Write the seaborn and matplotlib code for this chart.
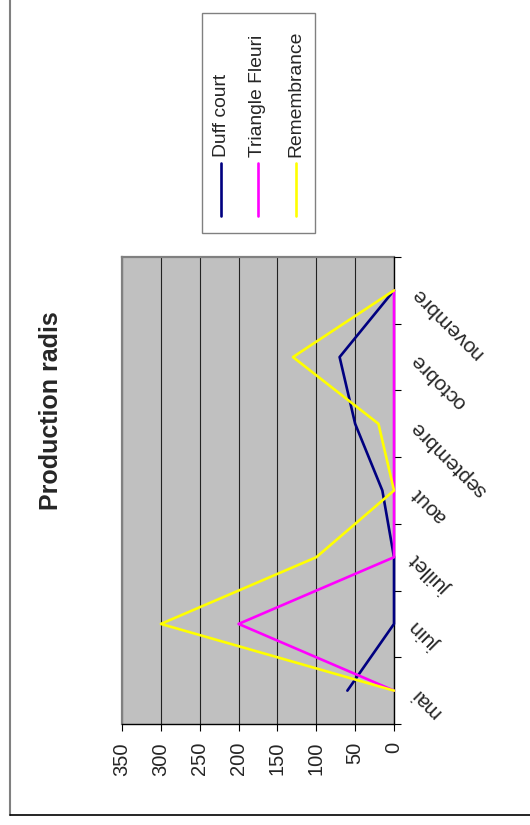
import numpy as np
import pandas as pd
import matplotlib
matplotlib.use("Agg")
import matplotlib.pyplot as plt
from matplotlib.lines import Line2D
from matplotlib.patches import Rectangle
import seaborn as sns

# ---- data ----
months = ['mai', 'juin', 'juillet', 'aout', 'septembre', 'octobre', 'novembre']
series_names = ['Duff court', 'Triangle Fleuri', 'Remembrance']
duff_court = [60, 0, 0, 15, 50, 70, 0]
triangle_fleuri = [0, 200, 0, 0, 0, 0, 0]
remembrance = [0, 300, 100, 0, 20, 130, 0]
value_ticks = [0, 50, 100, 150, 200, 250, 300, 350]
colors = ['#000080', '#FF00FF', '#FFFF00']
title = 'Production radis'

sns.set_style('white')
plt.rcParams['font.family'] = ['Liberation Sans', 'DejaVu Sans']

rows = []
for name, vals in zip(series_names, [duff_court, triangle_fleuri, remembrance]):
    for i, v in enumerate(vals):
        rows.append({'series': name, 'pos': i, 'value': v, 'month': months[i]})
df = pd.DataFrame(rows)

W, H = 530, 825
fig = plt.figure(figsize=(W / 100, H / 100), dpi=100)
fig.patch.set_facecolor('white')

def fx(px):
    return px / W

def fy(py):
    return 1 - py / H

ax = fig.add_axes([fx(122), fy(724), (394 - 122) / W, (724 - 257) / H])
ax.set_facecolor('#C0C0C0')

ax.set_xlim(350, 0)
ax.set_ylim(-0.5, 6.5)
ax.set_xticks(value_ticks)
ax.set_xticklabels([str(v) for v in value_ticks], rotation=90, fontsize=14.5)
ax.xaxis.grid(True, color='#222222', linewidth=0.8)
ax.set_axisbelow(True)

sns.lineplot(data=df, x='value', y='pos', hue='series', hue_order=series_names,
             palette=dict(zip(series_names, colors)), orient='y', estimator=None,
             linewidth=1.9, legend=False, ax=ax)
for k, ln in enumerate(ax.get_lines()):
    ln.set_clip_on(False)
    ln.set_zorder(4 + k * 0.1)
ax.set_xlabel('')
ax.set_ylabel('')

ax.yaxis.tick_right()
ax.set_yticks(range(len(months)))
ax.set_yticklabels(months, fontsize=15)
ax.set_yticks(np.arange(-0.5, len(months), 1.0), minor=True)
ax.tick_params(axis='y', which='major', length=0, pad=14.5, right=True, left=False)
ax.tick_params(axis='y', which='minor', length=5, width=0.8, direction='out',
               right=True, left=False, color='black')
ax.tick_params(axis='x', which='major', length=5, width=0.8, direction='out',
               bottom=True, top=False, color='black', pad=8)
for lab in ax.get_yticklabels():
    lab.set_rotation(135)
    lab.set_rotation_mode('anchor')
    lab.set_ha('right')
    lab.set_va('center')

for s in ['left', 'top']:
    ax.spines[s].set_color('#808080')
    ax.spines[s].set_linewidth(1.6)
for s in ['right', 'bottom']:
    ax.spines[s].set_color('black')
    ax.spines[s].set_linewidth(1.0)
    ax.spines[s].set_zorder(3)

# title
fig.text(fx(51), fy(411), title, rotation=90, fontsize=18, fontweight='bold',
         ha='center', va='center')

# page frame
fig.add_artist(Line2D([fx(10), fx(10)], [fy(815), 1.0], color='#808080', lw=1.5,
                      transform=fig.transFigure))
fig.add_artist(Line2D([fx(10), 1.0], [fy(815), fy(815)], color='black', lw=1.2,
                      transform=fig.transFigure))

# legend (rotated)
fig.add_artist(Rectangle((fx(202), fy(233)), (315 - 202) / W, (233 - 13) / H,
                         transform=fig.transFigure, fc='white', ec='#808080', lw=1.0))
for name, col, xp in zip(series_names, colors, [221, 258, 296]):
    fig.add_artist(Line2D([fx(xp), fx(xp)], [fy(216), fy(163)], color=col, lw=1.9,
                          transform=fig.transFigure))
    fig.text(fx(xp), fy(157), name, rotation=90, rotation_mode='anchor',
             ha='left', va='center', fontsize=13.9)

fig.savefig('out.png', dpi=100)
